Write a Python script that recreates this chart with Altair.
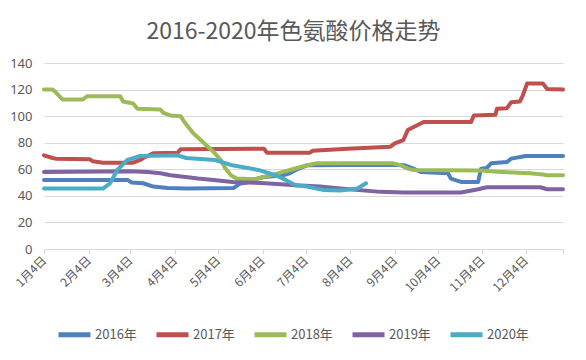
import altair as alt
import pandas as pd

# ---- data (x = days since Jan 4, y = price) ----
series_names = ["2016年", "2017年", "2018年", "2019年", "2020年"]
series_colors = ["#4F81BD", "#C0504D", "#9BBB59", "#8064A2", "#4BACC6"]

days_2016 = [0, 58, 61, 69, 76, 86, 100, 132, 136, 141, 145, 152, 166, 171, 176, 183, 241, 251, 257, 262,
             281, 283, 290, 302, 304, 308, 311, 322, 325, 335, 361]
vals_2016 = [52, 52, 50, 49.5, 47, 46, 45.5, 46, 49, 50, 52, 54, 55.5, 57, 60, 63, 63.5, 63, 60.5, 58,
             57, 53, 50.5, 50.5, 60.5, 61, 64.5, 65.5, 68, 70, 70]

days_2017 = [0, 6, 8, 32, 34, 41, 62, 67, 69, 76, 93, 95, 153, 155, 185, 187, 211, 241, 244, 250,
             253, 262, 264, 297, 299, 314, 315, 322, 325, 331, 333, 336, 347, 350, 361]
vals_2017 = [70.5, 68.5, 68, 67.5, 66, 65, 65, 67, 68.5, 72, 72.5, 75, 75.5, 72.5, 72.5, 74, 75.5, 77, 79.5, 82,
             89.5, 94.5, 95.5, 95.5, 100.5, 101, 105.5, 106, 110.5, 111, 115.5, 124.5, 124.5, 120.5, 120]

days_2018 = [0, 6, 9, 13, 27, 30, 53, 55, 62, 65, 81, 83, 88, 95, 98, 104, 109, 114, 118, 123,
             126, 130, 134, 147, 152, 160, 166, 173, 183, 190, 243, 248, 253, 257, 304, 318, 338, 347, 350, 361]
vals_2018 = [120, 120, 117, 112.5, 112.5, 115, 115, 111, 109.5, 105.5, 105, 102.5, 100.5, 100, 95, 87, 82, 77, 73, 67,
             61, 55.5, 53, 52.5, 54, 56, 58, 60, 63, 64.5, 64.5, 63, 60.5, 59.5, 59, 58, 57, 56, 55.5, 55.5]

days_2019 = [0, 60, 72, 81, 88, 100, 107, 118, 131, 154, 175, 192, 206, 234, 250, 290, 302, 308, 345, 350, 361]
vals_2019 = [58, 58.5, 58, 57, 55.5, 54, 53, 52, 50.5, 49.5, 48, 47, 45.5, 43, 42.5, 42.5, 45, 46.5, 46.5, 45, 45]

days_2020 = [0, 41, 46, 51, 58, 67, 93, 99, 119, 131, 149, 161, 168, 175, 183, 194, 206, 218, 224]
vals_2020 = [45.5, 45.5, 49.5, 59.5, 67, 70, 70.5, 68.5, 67, 63, 59.5, 55.5, 52, 48, 47, 44.5, 44, 45.5, 49.5]

tick_days = [0, 31, 60, 91, 121, 152, 182, 213, 244, 274, 305, 335, 361]
tick_labels = ["1月4日", "2月4日", "3月4日", "4月4日", "5月4日", "6月4日", "7月4日",
               "8月4日", "9月4日", "10月4日", "11月4日", "12月4日", ""]
y_ticks = [0, 20, 40, 60, 80, 100, 120, 140]

# ---- build table ----
all_days = [days_2016, days_2017, days_2018, days_2019, days_2020]
all_vals = [vals_2016, vals_2017, vals_2018, vals_2019, vals_2020]
rows = []
for name, ds, vs in zip(series_names, all_days, all_vals):
    for d, v in zip(ds, vs):
        rows.append({"series": name, "day": d, "value": v})
df = pd.DataFrame(rows)

label_expr = ("[" + ",".join("'" + t + "'" for t in tick_labels) + "][indexof(["
              + ",".join(str(t) for t in tick_days) + "], datum.value)]")

grey = "#595959"

chart = alt.Chart(df).mark_line(
    strokeWidth=4, strokeJoin="round", strokeCap="round"
).encode(
    x=alt.X("day:Q",
            scale=alt.Scale(domain=[0, 361], nice=False, zero=False),
            axis=alt.Axis(values=tick_days, labelExpr=label_expr, labelAngle=-45,
                          labelAlign="right", labelBaseline="middle", labelOverlap=False,
                          labelFlush=False, labelBound=False, grid=False, title=None,
                          domainColor="#d9d9d9", tickColor="#d9d9d9", tickSize=5,
                          labelPadding=4, labelFont="Noto Sans CJK SC", labelFontSize=12,
                          labelColor=grey)),
    y=alt.Y("value:Q",
            scale=alt.Scale(domain=[0, 140], nice=False),
            axis=alt.Axis(values=y_ticks, title=None, ticks=False, domain=False,
                          gridColor="#d9d9d9", labelFont="Noto Sans", labelFontSize=13,
                          labelColor=grey, labelPadding=12)),
    color=alt.Color("series:N",
                    scale=alt.Scale(domain=series_names, range=series_colors),
                    legend=alt.Legend(orient="none", legendX=12, legendY=253,
                                      direction="horizontal", columns=5, title=None,
                                      symbolType="stroke", symbolSize=1024,
                                      symbolStrokeWidth=5, labelFont="Noto Sans CJK SC",
                                      labelFontSize=13, labelColor=grey, labelOffset=2,
                                      columnPadding=9, padding=0)),
).properties(
    width=519,
    height=186,
    autosize=alt.AutoSizeParams(type="none"),
    padding={"left": 36, "top": 55, "right": 15, "bottom": 103},
    title=alt.TitleParams(text="2016-2020年色氨酸价格走势", fontSize=23,
                          font="Noto Sans CJK SC", fontWeight="normal", color=grey,
                          anchor="middle", offset=28, baseline="alphabetic", dx=-10, dy=33),
).configure_view(stroke="transparent")

chart.save("out.html", embed_options={"renderer": "svg", "actions": False})
